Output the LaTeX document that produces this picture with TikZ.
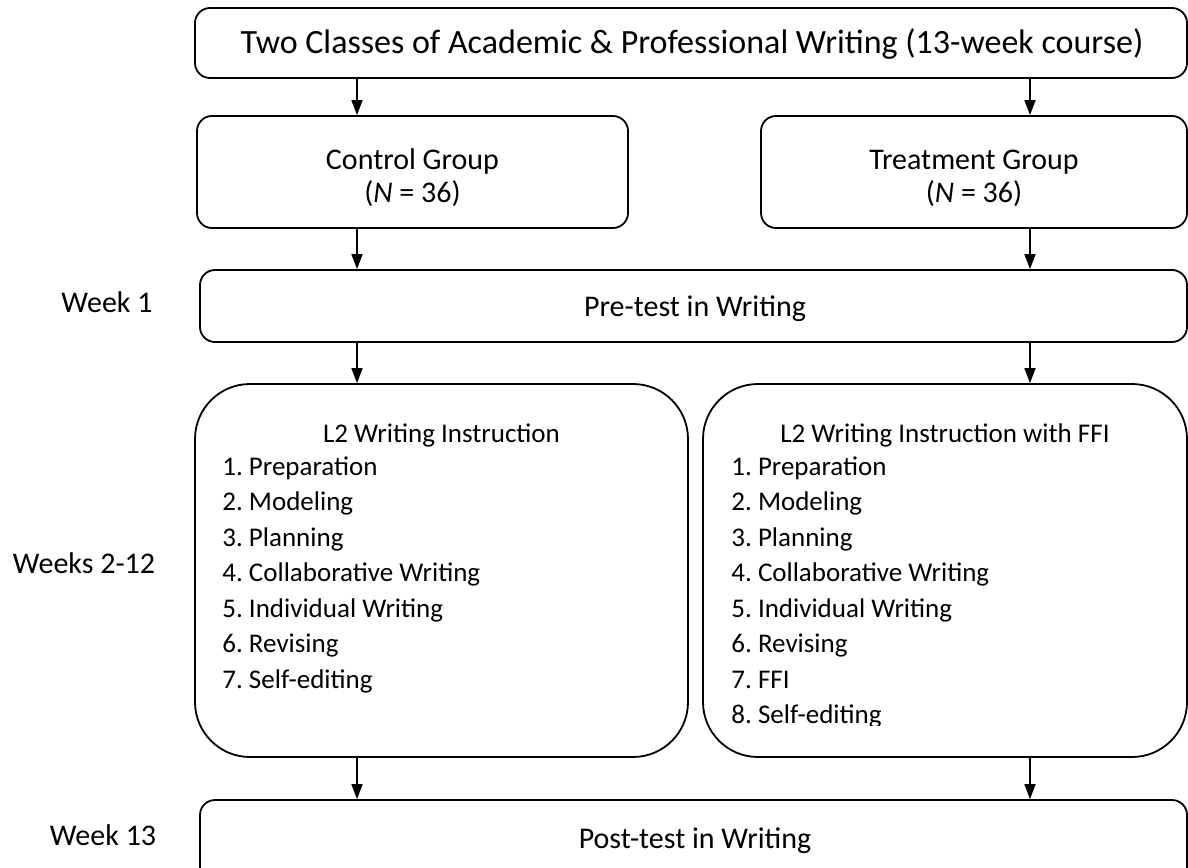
\documentclass[tikz,border=0pt]{standalone}
\usepackage{fontspec}
\setmainfont{Carlito}
\usetikzlibrary{arrows.meta}
\frenchspacing
\begin{document}
\begin{tikzpicture}[x=0.5pt,y=-0.5pt,
 box/.style={draw,line width=0.9pt,rounded corners=7.5pt,inner sep=0pt},
 bigbox/.style={draw,line width=0.9pt,rounded corners=27.5pt,inner sep=0pt},
 txt/.style={font=\fontsize{15}{16.5}\selectfont,align=center,inner sep=0pt},
 lbl/.style={font=\fontsize{15}{18}\selectfont,anchor=base,inner sep=0pt},
 item/.style={font=\fontsize{13.5}{16}\selectfont\frenchspacing,anchor=base west,inner sep=0pt},
 head/.style={font=\fontsize{13.5}{16}\selectfont,anchor=base,inner sep=0pt},
 arr/.style={line width=0.8pt,-{Triangle[length=7.5pt,width=5.5pt]}}]
\useasboundingbox[fill=white] (0,0) rectangle (1188,867);
\clip (0,0) rectangle (1188,867);
% boxes
\node[box,minimum width=496pt,minimum height=35pt] (top) at (691,43) {};
\node[lbl,font=\fontsize{17}{20}\selectfont] (toptxt) at (692,53) {Two Classes of Academic \& Professional Writing (13-week course)};
\node[box,minimum width=215.5pt,minimum height=56pt] (ctrl) at (412.5,172) {};
\node[txt] (ctrltxt) at (412.5,178) {Control Group\\(\textit{N} = 36)};
\node[box,minimum width=213pt,minimum height=56pt] (treat) at (974,172) {};
\node[txt] (treattxt) at (974,178) {Treatment Group\\(\textit{N} = 36)};
\node[box,minimum width=493.5pt,minimum height=36pt] (pre) at (693.5,306) {};
\node[lbl] (pretxt) at (695,316) {Pre-test in Writing};
\node[bigbox,minimum width=246.5pt,minimum height=186.5pt] (instL) at (441.5,570.5) {};
\node[bigbox,minimum width=242pt,minimum height=186.5pt] (instR) at (945,570.5) {};
\node[box,minimum width=493.5pt,minimum height=50pt] (post) at (693.5,850) {};
\node[lbl] (posttxt) at (695,848) {Post-test in Writing};
% week labels
\node[lbl] (w1) at (107,312) {Week 1};
\node[lbl] (w2) at (84,573) {Weeks 2-12};
\node[lbl] (w13) at (103,845) {Week 13};
% lists
\node[head] (hL) at (441.5,442) {L2 Writing Instruction};
\foreach \t [count=\i] in {1. Preparation, 2. Modeling, 3. Planning, 4. Collaborative Writing, 5. Individual Writing, 6. Revising, 7. Self-editing}
  \node[item] (l\i) at (222,{475+35.5*(\i-1)}) {\t};
\node[head] (hR) at (945,442) {L2 Writing Instruction with FFI};
\foreach \t [count=\i] in {1. Preparation, 2. Modeling, 3. Planning, 4. Collaborative Writing, 5. Individual Writing, 6. Revising, 7. FFI}
  \node[item] (r\i) at (731,{475+35.5*(\i-1)}) {\t};
\begin{scope}
\clip (703,690) rectangle (1187,725);
\node[item] (r8) at (731,723.5) {8. Self-editing};
\end{scope}
% arrows
\coordinate (xl) at (357,0);
\coordinate (xr) at (1030,0);
\draw[arr] (top.south -| xl) -- (ctrl.north -| xl);
\draw[arr] (top.south -| xr) -- (treat.north -| xr);
\draw[arr] (ctrl.south -| xl) -- (pre.north -| xl);
\draw[arr] (treat.south -| xr) -- (pre.north -| xr);
\draw[arr] (pre.south -| xl) -- (instL.north -| xl);
\draw[arr] (pre.south -| xr) -- (instR.north -| xr);
\draw[arr] (instL.south -| xl) -- (post.north -| xl);
\draw[arr] (instR.south -| xr) -- (post.north -| xr);
\end{tikzpicture}
\end{document}
